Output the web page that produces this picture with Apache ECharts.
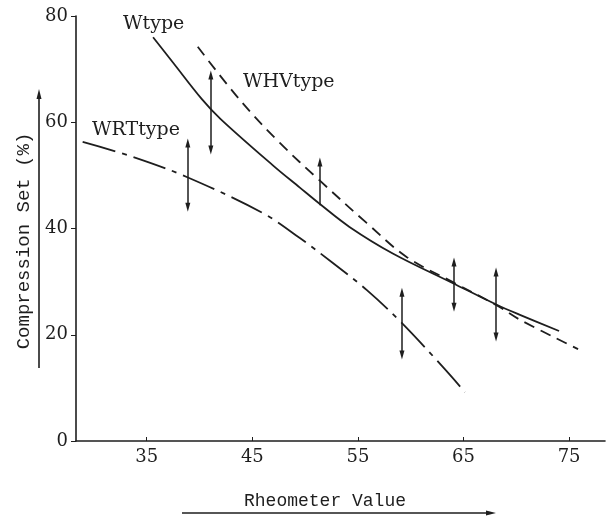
<!DOCTYPE html>
<html>
<head>
<meta charset="utf-8">
<title>Compression Set vs Rheometer Value</title>
<script src="https://cdn.jsdelivr.net/npm/echarts@6/dist/echarts.min.js"></script>
</head>
<body style="margin:0;background:#fff">
<div id="main" style="width:613px;height:520px;"></div>
<script type="text/javascript">
  // curves: [rheometer value, compression set %]
  var wType = [[35.6, 76.0], [37.5, 71.2], [40.2, 64.4], [42.0, 60.6], [47.0, 51.8],
    [49.5, 47.7], [51.4, 44.6], [54.2, 40.3], [58.3, 35.3], [64.0, 29.7],
    [68.2, 25.6], [70.4, 23.7], [74.05, 20.7]];
  var whvType = [[39.83, 74.2], [43.82, 64.2], [47.61, 56.1], [51.4, 49.0], [55.85, 41.0],
    [59.64, 34.6], [64.0, 29.9], [68.17, 25.5], [70.36, 22.8], [75.85, 17.3]];
  var wrtType = [[28.93, 56.3], [33.67, 53.5], [38.79, 49.7], [46.0, 42.9], [49.5, 38.2],
    [52.63, 33.5], [55.85, 28.4], [59.17, 22.2], [63.06, 13.9], [65.14, 9.2]];

  // spread bars (vertical arrows): x, low end, high end
  var barX = [38.89, 41.07, 51.4, 59.17, 64.1, 68.08];
  var barLow = [44.0, 54.8, 44.4, 16.2, 25.2, 19.6];
  var barHigh = [56.1, 68.9, 52.5, 28.0, 33.7, 31.8];
  var barDownHead = [true, true, false, true, true, true];

  var xTicks = [35, 45, 55, 65, 75];

  var ink = '#1e1e1e';
  var serif = 'DejaVu Serif';
  var mono = 'Liberation Mono';

  var bars = barX.map(function (x, i) {
    return [
      { coord: [x, barLow[i]], symbol: barDownHead[i] ? 'triangle' : 'none' },
      { coord: [x, barHigh[i]], symbol: 'triangle' }
    ];
  });

  var myChart = echarts.init(document.getElementById('main'));
  var option = {
    backgroundColor: '#fff',
    animation: false,
    grid: { left: 76, right: 8, top: 16, bottom: 79 },
    xAxis: {
      type: 'value',
      min: 28.3,
      max: 78.4,
      splitLine: { show: false },
      axisLine: { lineStyle: { color: ink, width: 1.6 } },
      axisTick: { inside: true, length: 4, customValues: xTicks, lineStyle: { color: ink } },
      axisLabel: { customValues: xTicks, margin: 7, color: ink, fontFamily: serif, fontSize: 18 }
    },
    yAxis: {
      type: 'value',
      min: 0,
      max: 80,
      interval: 20,
      splitLine: { show: false },
      axisLine: { show: true, lineStyle: { color: ink, width: 1.6 } },
      axisTick: { show: true, length: 5, lineStyle: { color: ink } },
      axisLabel: { margin: 8, color: ink, fontFamily: serif, fontSize: 18 }
    },
    series: [
      {
        name: 'Wtype', type: 'line', data: wType, smooth: 0.35, showSymbol: false,
        lineStyle: { color: ink, width: 1.8, type: 'solid' }
      },
      {
        name: 'WHVtype', type: 'line', data: whvType, smooth: 0.35, showSymbol: false,
        lineStyle: { color: ink, width: 1.8, type: [11, 7] }
      },
      {
        name: 'WRTtype', type: 'line', data: wrtType, smooth: 0.35, showSymbol: false,
        lineStyle: { color: ink, width: 1.8, type: [34, 7, 5, 7] }
      },
      {
        name: 'spread', type: 'line', data: [],
        markLine: {
          silent: true,
          symbolSize: [5, 9],
          label: { show: false },
          lineStyle: { color: ink, width: 1.5, type: 'solid' },
          data: bars
        }
      }
    ],
    graphic: [
      { type: 'text', left: 123, top: 15, style: { text: 'Wtype', fontFamily: serif, fontSize: 19, fill: ink } },
      { type: 'text', left: 243, top: 73, style: { text: 'WHVtype', fontFamily: serif, fontSize: 19, fill: ink } },
      { type: 'text', left: 92, top: 121, style: { text: 'WRTtype', fontFamily: serif, fontSize: 19, fill: ink } },
      {
        type: 'text', x: 24, y: 241, rotation: Math.PI / 2,
        style: { text: 'Compression Set (%)', fontFamily: mono, fontSize: 19, fill: ink, align: 'center', verticalAlign: 'middle' }
      },
      {
        type: 'text', x: 325, y: 501,
        style: { text: 'Rheometer Value', fontFamily: mono, fontSize: 18, fill: ink, align: 'center', verticalAlign: 'middle' }
      },
      // arrow beside the y title
      { type: 'line', shape: { x1: 39, y1: 368, x2: 39, y2: 96 }, style: { stroke: ink, lineWidth: 1.6 } },
      { type: 'polygon', shape: { points: [[39, 89], [36.5, 99], [41.5, 99]] }, style: { fill: ink } },
      // arrow under the x title
      { type: 'line', shape: { x1: 182, y1: 513, x2: 488, y2: 513 }, style: { stroke: ink, lineWidth: 1.6 } },
      { type: 'polygon', shape: { points: [[496, 513], [486, 510.5], [486, 515.5]] }, style: { fill: ink } }
    ]
  };
  myChart.setOption(option);
</script>
</body>
</html>
